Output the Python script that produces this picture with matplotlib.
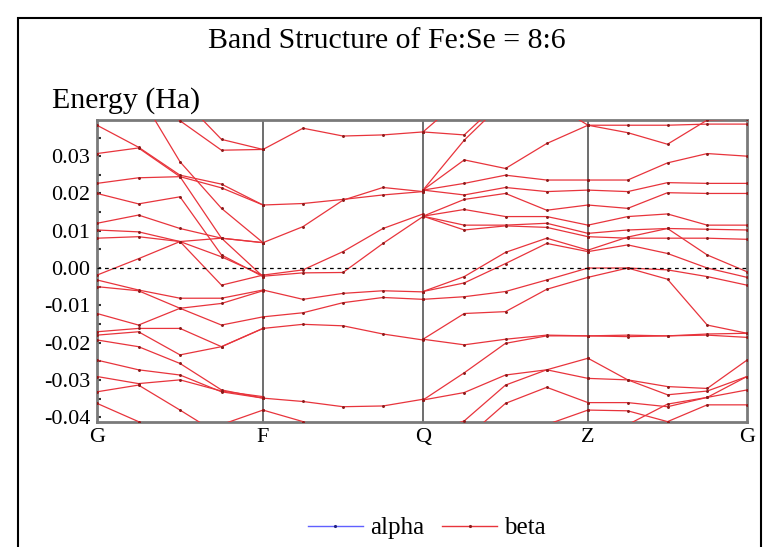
import numpy as np
import matplotlib
matplotlib.use("Agg")
import matplotlib.pyplot as plt
from matplotlib.patches import Rectangle
from matplotlib.lines import Line2D

plt.rcParams['font.family'] = ['Liberation Serif', 'DejaVu Serif']
plt.rcParams['axes.unicode_minus'] = False

# k-path labels and their relative path positions
kpoint_labels = ['G', 'F', 'Q', 'Z', 'G']
kpoint_pos = [0.0, 166.0, 326.0, 491.0, 650.0]

# bands per path segment, 5 samples each (energy in Ha)
seg_GF = [
    [0.0383, 0.0324, 0.0249, 0.0225, 0.0169],
    [0.0307, 0.0322, 0.0245, 0.0080, -0.0023],
    [0.0600, 0.0470, 0.0285, 0.0160, 0.0068],
    [0.0650, 0.0550, 0.0460, 0.0345, 0.0318],
    [0.0600, 0.0480, 0.0395, 0.0316, 0.0318],
    [0.0227, 0.0242, 0.0245, 0.0215, 0.0169],
    [0.0200, 0.0172, 0.0191, 0.0035, -0.0023],
    [0.0120, 0.0142, 0.0106, 0.0080, 0.0068],
    [0.0102, 0.0097, 0.0071, 0.0030, -0.0020],
    [0.0080, 0.0084, 0.0071, 0.0080, 0.0068],
    [-0.0019, 0.0025, 0.0071, -0.0046, -0.0019],
    [-0.0032, -0.0059, -0.0081, -0.0081, -0.0059],
    [-0.0050, -0.0061, -0.0108, -0.0153, -0.0131],
    [-0.0122, -0.0153, -0.0108, -0.0095, -0.0061],
    [-0.0171, -0.0162, -0.0162, -0.0211, -0.0162],
    [-0.0180, -0.0171, -0.0233, -0.0211, -0.0162],
    [-0.0193, -0.0211, -0.0256, -0.0327, -0.0349],
    [-0.0247, -0.0273, -0.0287, -0.0332, -0.0349],
    [-0.0291, -0.0310, -0.0300, -0.0330, -0.0345],
    [-0.0500, -0.0470, -0.0450, -0.0420, -0.0381],
    [-0.0332, -0.0314, -0.0381, -0.0450, -0.0500],
    [-0.0363, -0.0412, -0.0450, -0.0480, -0.0500],
]

seg_FQ = [
    [0.0318, 0.0375, 0.0354, 0.0357, 0.0365],
    [0.0169, 0.0173, 0.0184, 0.0196, 0.0205],
    [0.0068, 0.0111, 0.0182, 0.0216, 0.0205],
    [-0.0019, -0.0005, 0.0044, 0.0106, 0.0145],
    [-0.0022, -0.0013, -0.0012, 0.0066, 0.0138],
    [-0.0059, -0.0084, -0.0068, -0.0061, -0.0064],
    [-0.0131, -0.0120, -0.0093, -0.0079, -0.0084],
    [-0.0162, -0.0151, -0.0155, -0.0177, -0.0193],
    [-0.0349, -0.0358, -0.0372, -0.0370, -0.0352],
    [-0.0381, -0.0412, -0.0450, -0.0470, -0.0480],
]

seg_QZ = [
    [0.0365, 0.0460, 0.0550, 0.0600, 0.0600],
    [0.0365, 0.0357, 0.0460, 0.0550, 0.0600],
    [0.0209, 0.0343, 0.0450, 0.0500, 0.0600],
    [0.0209, 0.0290, 0.0267, 0.0334, 0.0383],
    [0.0600, 0.0550, 0.0500, 0.0450, 0.0383],
    [0.0209, 0.0227, 0.0249, 0.0236, 0.0236],
    [0.0209, 0.0196, 0.0216, 0.0205, 0.0209],
    [0.0139, 0.0184, 0.0200, 0.0155, 0.0169],
    [0.0139, 0.0157, 0.0138, 0.0138, 0.0115],
    [0.0139, 0.0115, 0.0115, 0.0120, 0.0093],
    [0.0139, 0.0102, 0.0113, 0.0109, 0.0084],
    [-0.0063, -0.0023, 0.0042, 0.0080, 0.0048],
    [-0.0063, -0.0040, 0.0012, 0.0066, 0.0044],
    [-0.0084, -0.0077, -0.0063, -0.0032, 0.0000],
    [-0.0191, -0.0122, -0.0117, -0.0057, -0.0025],
    [-0.0191, -0.0206, -0.0191, -0.0180, -0.0182],
    [-0.0354, -0.0281, -0.0202, -0.0182, -0.0182],
    [-0.0354, -0.0334, -0.0287, -0.0273, -0.0242],
    [-0.0450, -0.0410, -0.0314, -0.0273, -0.0296],
    [-0.0500, -0.0460, -0.0363, -0.0320, -0.0361],
    [-0.0500, -0.0500, -0.0480, -0.0420, -0.0381],
]

seg_ZG = [
    [0.0383, 0.0383, 0.0383, 0.0386, 0.0386],
    [0.0383, 0.0363, 0.0332, 0.0397, 0.0400],
    [0.0236, 0.0236, 0.0282, 0.0307, 0.0300],
    [0.0209, 0.0205, 0.0229, 0.0227, 0.0227],
    [0.0169, 0.0160, 0.0202, 0.0200, 0.0200],
    [0.0115, 0.0138, 0.0145, 0.0115, 0.0115],
    [0.0093, 0.0102, 0.0106, 0.0104, 0.0102],
    [0.0084, 0.0080, 0.0080, 0.0080, 0.0077],
    [0.0048, 0.0083, 0.0106, 0.0035, -0.0010],
    [0.0044, 0.0062, 0.0039, 0.0000, -0.0025],
    [0.0000, 0.0000, -0.0005, -0.0023, -0.0046],
    [-0.0025, 0.0000, -0.0030, -0.0153, -0.0175],
    [-0.0182, -0.0180, -0.0182, -0.0177, -0.0175],
    [-0.0182, -0.0184, -0.0182, -0.0180, -0.0186],
    [-0.0242, -0.0300, -0.0318, -0.0323, -0.0247],
    [-0.0296, -0.0300, -0.0340, -0.0330, -0.0291],
    [-0.0361, -0.0361, -0.0372, -0.0347, -0.0291],
    [-0.0381, -0.0383, -0.0412, -0.0367, -0.0367],
    [-0.0450, -0.0420, -0.0365, -0.0347, -0.0327],
]

segments = [seg_GF, seg_FQ, seg_QZ, seg_ZG]

fig = plt.figure(figsize=(7.63, 5.47), dpi=100)
ax = fig.add_axes([97 / 763, 1 - 422 / 547, 650 / 763, 302 / 547])

red = '#e8343c'
for i, seg in enumerate(segments):
    xs = np.linspace(kpoint_pos[i], kpoint_pos[i + 1], 5)
    for band in seg:
        ax.plot(xs, band, color=red, lw=0.9, marker='.', ms=2.2,
                mfc='#8b1a1a', mec='#8b1a1a', zorder=3)

for x in kpoint_pos[1:-1]:
    ax.axvline(x, color='#6e6e6e', lw=1.4, zorder=2)
ax.axhline(0.0, color='black', lw=0.9, ls=(0, (3, 3)), zorder=4)

ax.set_xlim(kpoint_pos[0], kpoint_pos[-1])
ax.set_ylim(-0.0413, 0.0397)
ax.set_xticks(kpoint_pos)
ax.set_xticklabels(kpoint_labels, fontsize=16)
ax.set_yticks(np.arange(-0.04, 0.031, 0.01))
ax.set_yticklabels(['%.2f' % v for v in np.arange(-0.04, 0.031, 0.01)], fontsize=16)
ax.set_yticks(np.arange(-0.04, 0.036, 0.005), minor=True)
ax.tick_params(axis='y', direction='in', length=3, width=1.5, color='#333333', pad=5)
ax.tick_params(axis='y', which='minor', direction='in', length=3, width=1.5, color='#333333')
ax.tick_params(axis='x', length=0, pad=4)
for sp in ax.spines.values():
    sp.set_color('#7a7a7a')
    sp.set_linewidth(2)

fig.text(387 / 763, 1 - 41 / 547, 'Band Structure of Fe:Se = 8:6', fontsize=21.5,
         ha='center', va='center')
fig.text(52 / 763, 1 - 101 / 547, 'Energy (Ha)', fontsize=21.5, ha='left', va='center')

handles = [Line2D([], [], color='#6060ff', lw=1, marker='.', ms=2.5, mfc='#202080', mec='#202080'),
           Line2D([], [], color=red, lw=1, marker='.', ms=2.5, mfc='#8b1a1a', mec='#8b1a1a')]
fig.legend(handles, ['alpha', 'beta'], loc='center', bbox_to_anchor=(427 / 763, 1 - 528 / 547),
           ncol=2, frameon=False, fontsize=18, handlelength=2.2, handletextpad=0.3,
           columnspacing=0.7)

fig.patches.append(Rectangle((18 / 763, -0.01), 743 / 763, 1 - 18 / 547 + 0.01,
                             transform=fig.transFigure, fill=False, ec='black', lw=1.5))

fig.savefig('out.png', dpi=100)
